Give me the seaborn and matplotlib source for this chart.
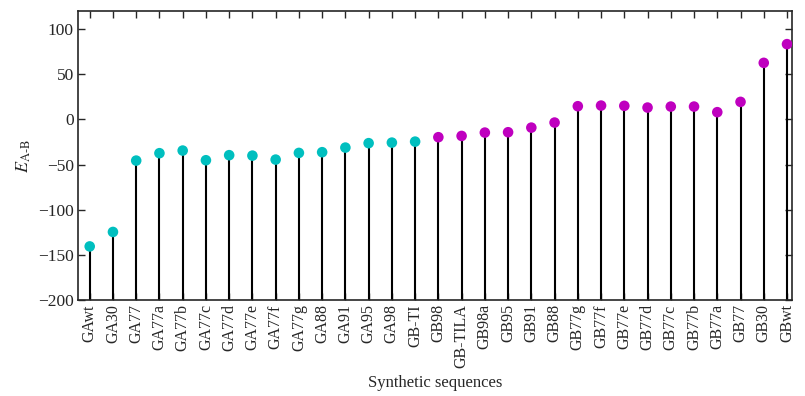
import matplotlib
matplotlib.use("Agg")
import matplotlib.pyplot as plt
import seaborn as sns
import pandas as pd

categories = ["GAwt", "GA30", "GA77", "GA77a", "GA77b", "GA77c", "GA77d", "GA77e",
              "GA77f", "GA77g", "GA88", "GA91", "GA95", "GA98", "GB-TI", "GB98",
              "GB-TILA", "GB98a", "GB95", "GB91", "GB88", "GB77g", "GB77f", "GB77e",
              "GB77d", "GB77c", "GB77b", "GB77a", "GB77", "GB30", "GBwt"]
values = [-140.5, -124.5, -45.5, -37.3, -34.4, -45.1, -39.5, -40.0,
          -44.4, -37.0, -36.2, -31.1, -26.2, -25.6, -24.5, -19.6,
          -18.2, -14.5, -14.1, -9.0, -3.4, 14.7, 15.4, 15.1,
          13.2, 14.3, 14.3, 8.1, 19.5, 62.7, 83.4]
groups = ["A"] * 15 + ["B"] * 16
group_colors = {"A": "#00BFBF", "B": "#BF00BF"}
y_ticks = [-200, -150, -100, -50, 0, 50, 100]

sns.set_style("ticks")
plt.rcParams["font.family"] = ["Liberation Serif", "DejaVu Serif"]
plt.rcParams["mathtext.fontset"] = "stix"
plt.rcParams["axes.unicode_minus"] = True

df = pd.DataFrame({"seq": categories, "E": values, "grp": groups})

fig = plt.figure(figsize=(8.05, 3.96), dpi=100)
ax = fig.add_axes([0.097, 0.242, 0.887, 0.730])

xs = list(range(len(categories)))
ax.vlines(xs, -200, df["E"], colors="black", linewidth=1.5, zorder=2)
sns.scatterplot(data=df, x="seq", y="E", hue="grp", palette=group_colors,
                s=58, edgecolor="none", legend=False, ax=ax, zorder=3)

ax.set_xlim(-0.5, 30.22)
ax.set_ylim(-200, 120)
ax.set_yticks(y_ticks)
ax.set_xticks(xs)
ax.set_xticklabels(categories, rotation=90, fontsize=11.5)
ax.tick_params(axis="y", labelsize=12.5)
ax.tick_params(direction="in", top=True, right=True, length=5, width=1, pad=3)
for s in ax.spines.values():
    s.set_linewidth(1.2)
ax.set_xlabel("Synthetic sequences", fontsize=12, labelpad=5)
ax.set_ylabel(r"$E_{\mathrm{A\text{-}B}}$", fontsize=13, labelpad=4)

fig.savefig("out.png", dpi=100)
